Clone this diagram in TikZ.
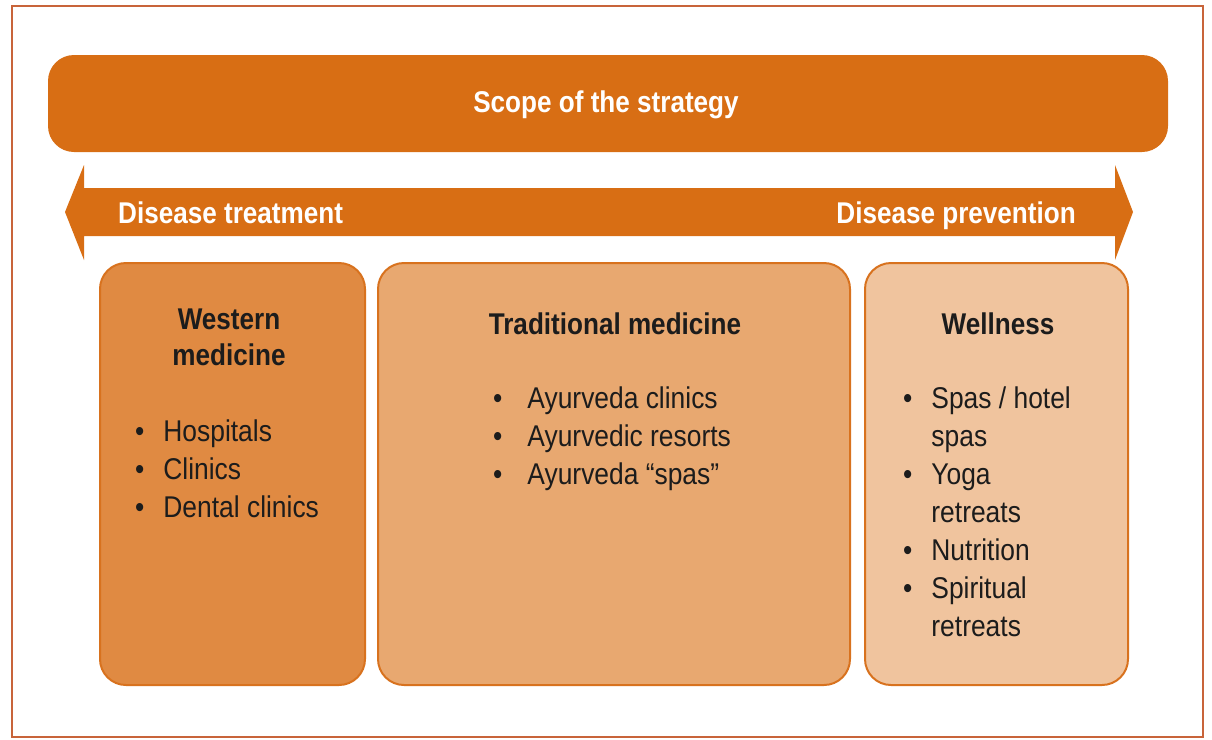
\documentclass[tikz,border=0pt]{standalone}
\usepackage{fontspec}
\setmainfont{Liberation Sans}[FakeStretch=0.88, BoldFeatures={FakeStretch=0.87}]
\usepackage{tikz}
\usetikzlibrary{calc}
\definecolor{scopeOrange}{HTML}{D86E14}
\definecolor{frameRed}{HTML}{C8643A}
\definecolor{boxEdge}{HTML}{D8721E}
\definecolor{westernFill}{HTML}{E08A42}
\definecolor{traditionalFill}{HTML}{E8A870}
\definecolor{wellnessFill}{HTML}{F0C49E}
\definecolor{inkBlack}{HTML}{1C1C1C}

\begin{document}
\begin{tikzpicture}[x=1pt, y=-1pt,
	every node/.style={inner sep=0pt, font=\fontsize{30}{38}\selectfont},
	field/.style={draw=boxEdge, line width=2pt, rounded corners=26pt, inner sep=0pt},
	heading/.style={anchor=base, inkBlack, font=\fontsize{30}{36}\selectfont\bfseries, align=center},
	items/.style={anchor=base west, inkBlack}]
	\useasboundingbox (0,0) rectangle (1212,739);
	\draw[frameRed, line width=1.5pt] (12,6) rectangle (1203,737);

	% banner
	\node[fill=scopeOrange, rounded corners=26pt, minimum width=1120pt, minimum height=97pt] (scope) at (608,103.5) {};
	\node[anchor=base, white, font=\fontsize{30}{36}\selectfont\bfseries] (scopeText) at (606,112) {Scope of the strategy};

	% treatment <-> prevention
	\coordinate (tipL) at (65,212);
	\coordinate (tipR) at (1133,212);
	\fill[scopeOrange] (tipL) -- (84,165) -- (84,188) -- (1115,188) -- (1115,165) -- (tipR)
		-- (1115,260) -- (1115,236) -- (84,236) -- (84,260) -- cycle;
	\node[anchor=base west, white, font=\fontsize{30}{36}\selectfont\bfseries] (treatment) at (118,223) {Disease treatment};
	\node[anchor=base east, white, font=\fontsize{30}{36}\selectfont\bfseries] (prevention) at (1076,223) {Disease prevention};

	% the three fields
	\node[field, fill=westernFill, minimum width=265pt, minimum height=422pt] (western) at (232.5,474) {};
	\node[field, fill=traditionalFill, minimum width=472pt, minimum height=422pt] (traditional) at (614,474) {};
	\node[field, fill=wellnessFill, minimum width=263pt, minimum height=422pt] (wellness) at (996.5,474) {};

	% base of a two-line heading is its last line
	\node[heading] (westernHead) at (229,365) {Western\\medicine};
	\node[heading] (traditionalHead) at (615,334) {Traditional medicine};
	\node[heading] (wellnessHead) at (998,334) {Wellness};

	\node[items] (westernList) at (135,441) {\begin{tabular}[t]{@{}c@{\hspace{19pt}}l@{}}
		\textbullet & Hospitals\\
		\textbullet & Clinics\\
		\textbullet & Dental clinics
	\end{tabular}};
	\node[items] (traditionalList) at (493,408) {\begin{tabular}[t]{@{}c@{\hspace{25pt}}l@{}}
		\textbullet & Ayurveda clinics\\
		\textbullet & Ayurvedic resorts\\
		\textbullet & Ayurveda “spas”
	\end{tabular}};
	\node[items] (wellnessList) at (903,408) {\begin{tabular}[t]{@{}c@{\hspace{19pt}}l@{}}
		\textbullet & Spas / hotel\\
		 & spas\\
		\textbullet & Yoga\\
		 & retreats\\
		\textbullet & Nutrition\\
		\textbullet & Spiritual\\
		 & retreats
	\end{tabular}};
\end{tikzpicture}
\end{document}
